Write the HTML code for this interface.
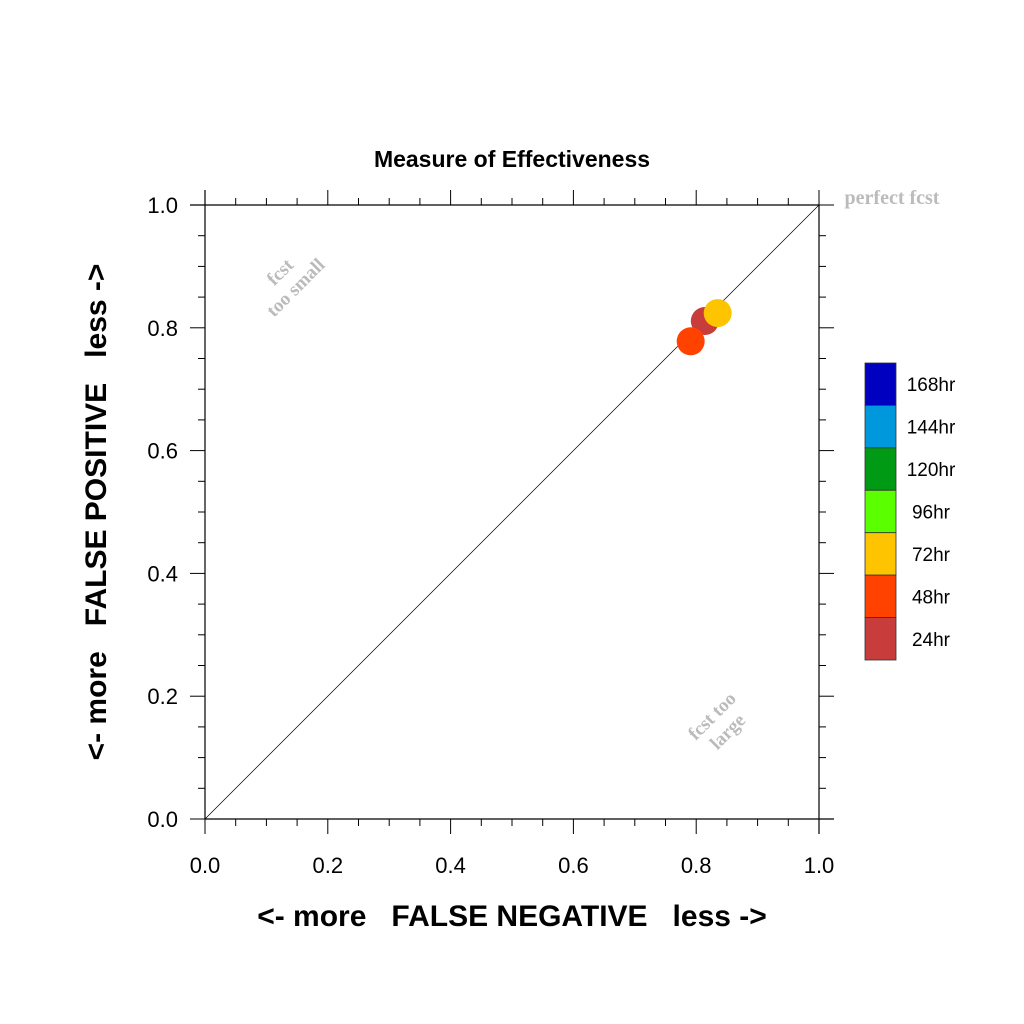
<!DOCTYPE html>
<html><head><meta charset="utf-8"><style>
body{margin:0;background:#fff}
svg{display:block;font-family:"Liberation Sans",sans-serif}
</style></head><body>
<svg id="chart" width="1024" height="1024" viewBox="0 0 1024 1024">
<text x="512" y="167" text-anchor="middle" font-size="23" font-weight="bold">Measure of Effectiveness</text>
<g id="axes"></g>
<line x1="205" y1="819" x2="819" y2="205" stroke="#000" stroke-width="0.7"/>
<g id="pts"></g>
<text x="892" y="204" text-anchor="middle" font-family="Liberation Serif,serif" font-weight="bold" font-size="20" fill="#bbb">perfect fcst</text>
<g transform="translate(290,282) rotate(-45)" fill="#bbb" font-family="Liberation Serif,serif" font-weight="bold" font-size="19" text-anchor="middle"><text x="0" y="-8">fcst</text><text x="0" y="14">too small</text></g>
<g transform="translate(722,726) rotate(-45)" fill="#bbb" font-family="Liberation Serif,serif" font-weight="bold" font-size="19" text-anchor="middle"><text x="0" y="-8">fcst too</text><text x="0" y="14">large</text></g>
<text x="512" y="926" text-anchor="middle" font-size="30" font-weight="bold" xml:space="preserve">&lt;- more   FALSE NEGATIVE   less -&gt;</text>
<text transform="translate(106,512) rotate(-90)" text-anchor="middle" font-size="30" font-weight="bold" xml:space="preserve">&lt;- more   FALSE POSITIVE   less -&gt;</text>
<g id="legend"></g>
</svg>
<script>
const legendLabels=["168hr","144hr","120hr","96hr","72hr","48hr","24hr"];
const legendColors=["#0000c0","#0098dc","#009a14","#5aff00","#ffc400","#ff4200","#c83c3c"];
const ptLabels=["24hr","72hr","48hr"];
const ptX=[0.814,0.835,0.791];
const ptY=[0.811,0.824,0.778];
const ptColors=["#c83c3c","#ffc400","#ff4200"];
const tickVals=[0,0.2,0.4,0.6,0.8,1.0];
const tickLabels=["0.0","0.2","0.4","0.6","0.8","1.0"];
const NS="http://www.w3.org/2000/svg";
const X0=205,X1=819,Y0=819,Y1=205;
const sx=v=>X0+v*(X1-X0), sy=v=>Y0-v*(Y0-Y1);
function mk(t,a,p){const e=document.createElementNS(NS,t);for(const k in a)e.setAttribute(k,a[k]);p.appendChild(e);return e;}
const ax=document.getElementById('axes');
// frame
let l;
l=mk('line',{x1:190,y1:205,x2:819,y2:205,stroke:'#000','stroke-width':1.2},ax);
l=mk('line',{x1:205,y1:190,x2:205,y2:819,stroke:'#000','stroke-width':1.2},ax);
l=mk('line',{x1:205,y1:819,x2:834,y2:819,stroke:'#000','stroke-width':1.2},ax);
l=mk('line',{x1:819,y1:205,x2:819,y2:834,stroke:'#000','stroke-width':1.2},ax);
for(let i=0;i<=20;i++){
 const v=i/20, maj=(i%4===0), L=maj?15:7;
 const x=sx(v), y=sy(v);
 mk('line',{x1:x,y1:205,x2:x,y2:205-L,stroke:'#000','stroke-width':1},ax);
 mk('line',{x1:x,y1:819,x2:x,y2:819+L,stroke:'#000','stroke-width':1},ax);
 mk('line',{x1:205,y1:y,x2:205-L,y2:y,stroke:'#000','stroke-width':1},ax);
 mk('line',{x1:819,y1:y,x2:819+L,y2:y,stroke:'#000','stroke-width':1},ax);
}
tickVals.forEach((v,i)=>{
 let t=mk('text',{x:sx(v),y:873,'text-anchor':'middle','font-size':22},ax);t.textContent=tickLabels[i];
 
 t=mk('text',{x:178,y:sy(v)+8,'text-anchor':'end','font-size':22},ax);t.textContent=tickLabels[i];
 
});
const pg=document.getElementById('pts');
ptX.forEach((v,i)=>{
 const c=mk('circle',{cx:sx(v),cy:sy(ptY[i]),r:14,fill:ptColors[i]},pg);
 
 
});
const lg=document.getElementById('legend');
const bh=(660-363)/legendLabels.length;
legendLabels.forEach((lab,i)=>{
 const y=363+i*bh;
 const r=mk('rect',{x:865,y:y,width:31,height:bh,fill:legendColors[i],stroke:'#333','stroke-width':0.8},lg);
 
 
 const t=mk('text',{x:931,y:y+bh/2+7,'text-anchor':'middle','font-size':19},lg);t.textContent=lab;
 
 
});
</script>
</body></html>
